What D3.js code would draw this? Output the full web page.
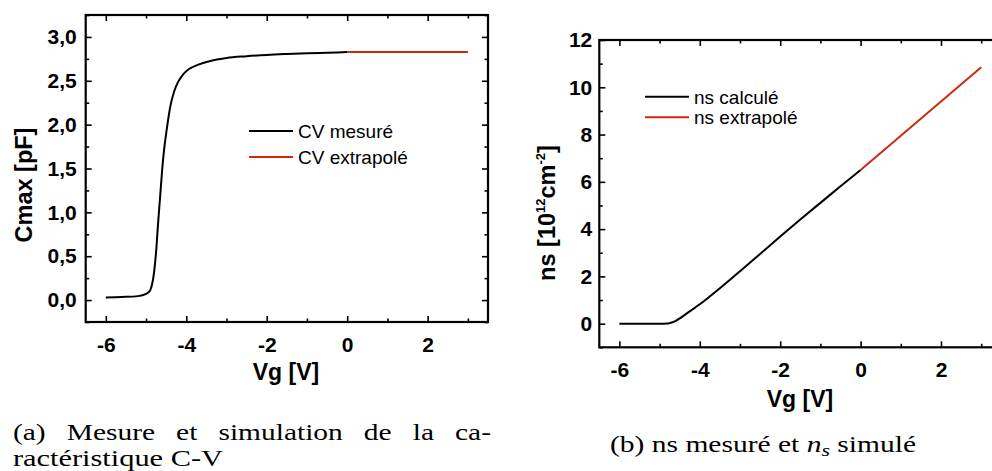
<!DOCTYPE html>
<html><head><meta charset="utf-8">
<script src="https://cdn.jsdelivr.net/npm/d3@7"></script>
<style>body{margin:0;background:#fff}svg{display:block}</style>
</head><body>
<svg id="c" width="992" height="471"></svg>
<script>
// ---- data ----
const cvMesVg = [-6, -5.6, -5.2, -5.0, -4.9, -4.85, -4.8, -4.75, -4.7, -4.65, -4.6, -4.55, -4.5, -4.45, -4.4, -4.3, -4.2, -4.1, -4.0, -3.8, -3.6, -3.4, -3.2, -3.0, -2.5, -2.0, -1.5, -1.0, -0.5, 0];
const cvMesC  = [0.03, 0.035, 0.045, 0.07, 0.11, 0.18, 0.32, 0.55, 0.88, 1.18, 1.48, 1.72, 1.90, 2.06, 2.20, 2.38, 2.49, 2.56, 2.61, 2.665, 2.70, 2.725, 2.745, 2.76, 2.78, 2.795, 2.805, 2.813, 2.82, 2.827];
const cvExtVg = [0, 3];
const cvExtC  = [2.827, 2.827];

const nsCalVg = [-6, -5.5, -5, -4.8, -4.7, -4.6, -4.5, -4.4, -4.2, -4.0, -3.5, -3, -2.5, -2, -1.5, -1, -0.5, 0];
const nsCal   = [0, 0, 0, 0.01, 0.05, 0.12, 0.22, 0.34, 0.58, 0.82, 1.5, 2.22, 2.95, 3.69, 4.41, 5.11, 5.81, 6.5];
const nsExtVg = [0, 3];
const nsExt   = [6.5, 10.85];

const xTicks = [-6, -4, -2, 0, 2];
const xMinor = [-5, -3, -1, 1, 3];
const cTicks = [0, 0.5, 1.0, 1.5, 2.0, 2.5, 3.0];
const cMinor = [-0.25, 0.25, 0.75, 1.25, 1.75, 2.25, 2.75, 3.25];
const nTicks = [0, 2, 4, 6, 8, 10, 12];
const nMinor = [-1, 1, 3, 5, 7, 9, 11];

const legendCV = ["CV mesuré", "CV extrapolé"];
const legendNS = ["ns calculé", "ns extrapolé"];
const RED = "#cc2a10";

const svg = d3.select("#c");
const SANS = "'Liberation Sans', Arial, sans-serif";

function panel(o) {
  const x = d3.scaleLinear().domain([-6.5, 3.5]).range([o.x0, o.x1]);
  const y = d3.scaleLinear().domain(o.ydom).range([o.y1, o.y0]);
  const g = svg.append("g");
  const bw = o.x1 - o.x0, bh = o.y1 - o.y0;
  const fmtX = d => String(d);
  const styleAxis = (sel) => { sel.select(".domain").remove();
    sel.selectAll(".tick line").attr("stroke", "#000").attr("stroke-width", 1.6);
    sel.selectAll("text").attr("font-family", SANS).attr("font-weight", "bold").attr("font-size", 21).attr("fill", "#000"); };
  g.append("g").attr("transform", `translate(0,${o.y1})`)
    .call(d3.axisBottom(x).tickValues(xTicks).tickFormat(fmtX).tickSize(-6).tickPadding(o.xpad)).call(styleAxis);
  g.append("g").attr("transform", `translate(0,${o.y1})`)
    .call(d3.axisBottom(x).tickValues(xMinor).tickFormat("").tickSize(-3.5)).call(styleAxis);
  g.append("g").attr("transform", `translate(0,${o.y0})`)
    .call(d3.axisTop(x).tickValues(xTicks).tickFormat("").tickSize(-6)).call(styleAxis);
  g.append("g").attr("transform", `translate(0,${o.y0})`)
    .call(d3.axisTop(x).tickValues(xMinor).tickFormat("").tickSize(-3.5)).call(styleAxis);
  g.append("g").attr("transform", `translate(${o.x0},0)`)
    .call(d3.axisLeft(y).tickValues(o.yt).tickFormat(o.fmtY).tickSize(-6).tickPadding(o.ypad)).call(styleAxis);
  g.append("g").attr("transform", `translate(${o.x0},0)`)
    .call(d3.axisLeft(y).tickValues(o.ym).tickFormat("").tickSize(-3.5)).call(styleAxis);
  g.append("g").attr("transform", `translate(${o.x1},0)`)
    .call(d3.axisRight(y).tickValues(o.yt).tickFormat("").tickSize(-6)).call(styleAxis);
  g.append("g").attr("transform", `translate(${o.x1},0)`)
    .call(d3.axisRight(y).tickValues(o.ym).tickFormat("").tickSize(-3.5)).call(styleAxis);
  g.append("rect").attr("x", o.x0).attr("y", o.y0).attr("width", bw).attr("height", bh)
    .attr("fill", "none").attr("stroke", "#000").attr("stroke-width", 2.2);
  const line = d3.line().x(d => x(d[0])).y(d => y(d[1])).curve(d3.curveMonotoneX);
  g.append("path").datum(o.s1x.map((v, i) => [v, o.s1y[i]])).attr("d", line)
    .attr("fill", "none").attr("stroke", "#000").attr("stroke-width", 2);
  g.append("path").datum(o.s2x.map((v, i) => [v, o.s2y[i]])).attr("d", line)
    .attr("fill", "none").attr("stroke", RED).attr("stroke-width", 2);
  o.leg.forEach((t, i) => {
    const ly = o.ly + i * o.ldy;
    g.append("line").attr("x1", o.lx).attr("x2", o.lx + 44).attr("y1", ly).attr("y2", ly)
      .attr("stroke", i ? RED : "#000").attr("stroke-width", 2);
    g.append("text").attr("x", o.lx + 49).attr("y", ly).attr("dy", "0.36em")
      .attr("font-family", SANS).attr("font-size", 19).attr("fill", "#000").text(t);
  });
  g.append("text").attr("x", o.xtx).attr("y", o.xty).attr("text-anchor", "middle")
    .attr("font-family", SANS).attr("font-weight", "bold").attr("font-size", 23).text("Vg [V]");
  return g;
}

const gA = panel({x0: 85.7, x1: 488, y0: 15, y1: 322, ydom: [-0.25, 3.25],
  yt: cTicks, ym: cMinor, fmtY: d => d3.format(".1f")(d).replace(".", ","),
  xpad: 15, ypad: 9, s1x: cvMesVg, s1y: cvMesC, s2x: cvExtVg, s2y: cvExtC,
  leg: legendCV, lx: 249, ly: 131, ldy: 26, xtx: 286, xty: 380});
gA.append("text").attr("transform", "translate(32,185) rotate(-90)").attr("text-anchor", "middle")
  .attr("font-family", SANS).attr("font-weight", "bold").attr("font-size", 23.5).text("Cmax [pF]");

const gB = panel({x0: 599.3, x1: 1001.3, y0: 40, y1: 347.3, ydom: [-1, 12],
  yt: nTicks, ym: nMinor, fmtY: d => String(d),
  xpad: 15, ypad: 7, s1x: nsCalVg, s1y: nsCal, s2x: nsExtVg, s2y: nsExt,
  leg: legendNS, lx: 645, ly: 96.7, ldy: 20.6, xtx: 800, xty: 407});
const yt = gB.append("text").attr("transform", "translate(555,213) rotate(-90)").attr("text-anchor", "middle")
  .attr("font-family", SANS).attr("font-weight", "bold").attr("font-size", 23.5);
yt.append("tspan").text("ns [10");
yt.append("tspan").attr("font-size", 13).attr("dy", -10).text("12");
yt.append("tspan").attr("dy", 10).text("cm");
yt.append("tspan").attr("font-size", 13).attr("dy", -10).text("-2");
yt.append("tspan").attr("dy", 10).text("]");

// captions
const SERIF = "'Liberation Serif', 'Times New Roman', serif";
const cap = svg.append("g").attr("font-family", SERIF).attr("font-size", 23).attr("fill", "#000");
const words = ["(a)", "Mesure", "et", "simulation", "de", "la", "ca-"];
const stretch = 1.28;
const wEls = words.map(w => cap.append("text").attr("y", 440).text(w));
const widths = wEls.map(e => e.node().getComputedTextLength() * stretch);
const total = widths.reduce((a, b) => a + b, 0);
const gap = (491 - 13 - total) / (words.length - 1);
let cx = 13;
wEls.forEach((e, i) => { e.attr("x", cx).attr("textLength", widths[i]).attr("lengthAdjust", "spacingAndGlyphs"); cx += widths[i] + gap; });
cap.append("text").attr("x", 13).attr("y", 466).attr("textLength", 210).attr("lengthAdjust", "spacingAndGlyphs").text("ractéristique C-V");
const cb = cap.append("text").attr("x", 610).attr("y", 452).attr("textLength", 306).attr("lengthAdjust", "spacingAndGlyphs");
cb.append("tspan").text("(b) ns mesuré et ");
cb.append("tspan").attr("font-style", "italic").text("n");
cb.append("tspan").attr("font-style", "italic").attr("font-size", 17).attr("dy", 4).text("s");
cb.append("tspan").attr("dy", -4).text(" simulé");
</script>
</body></html>
